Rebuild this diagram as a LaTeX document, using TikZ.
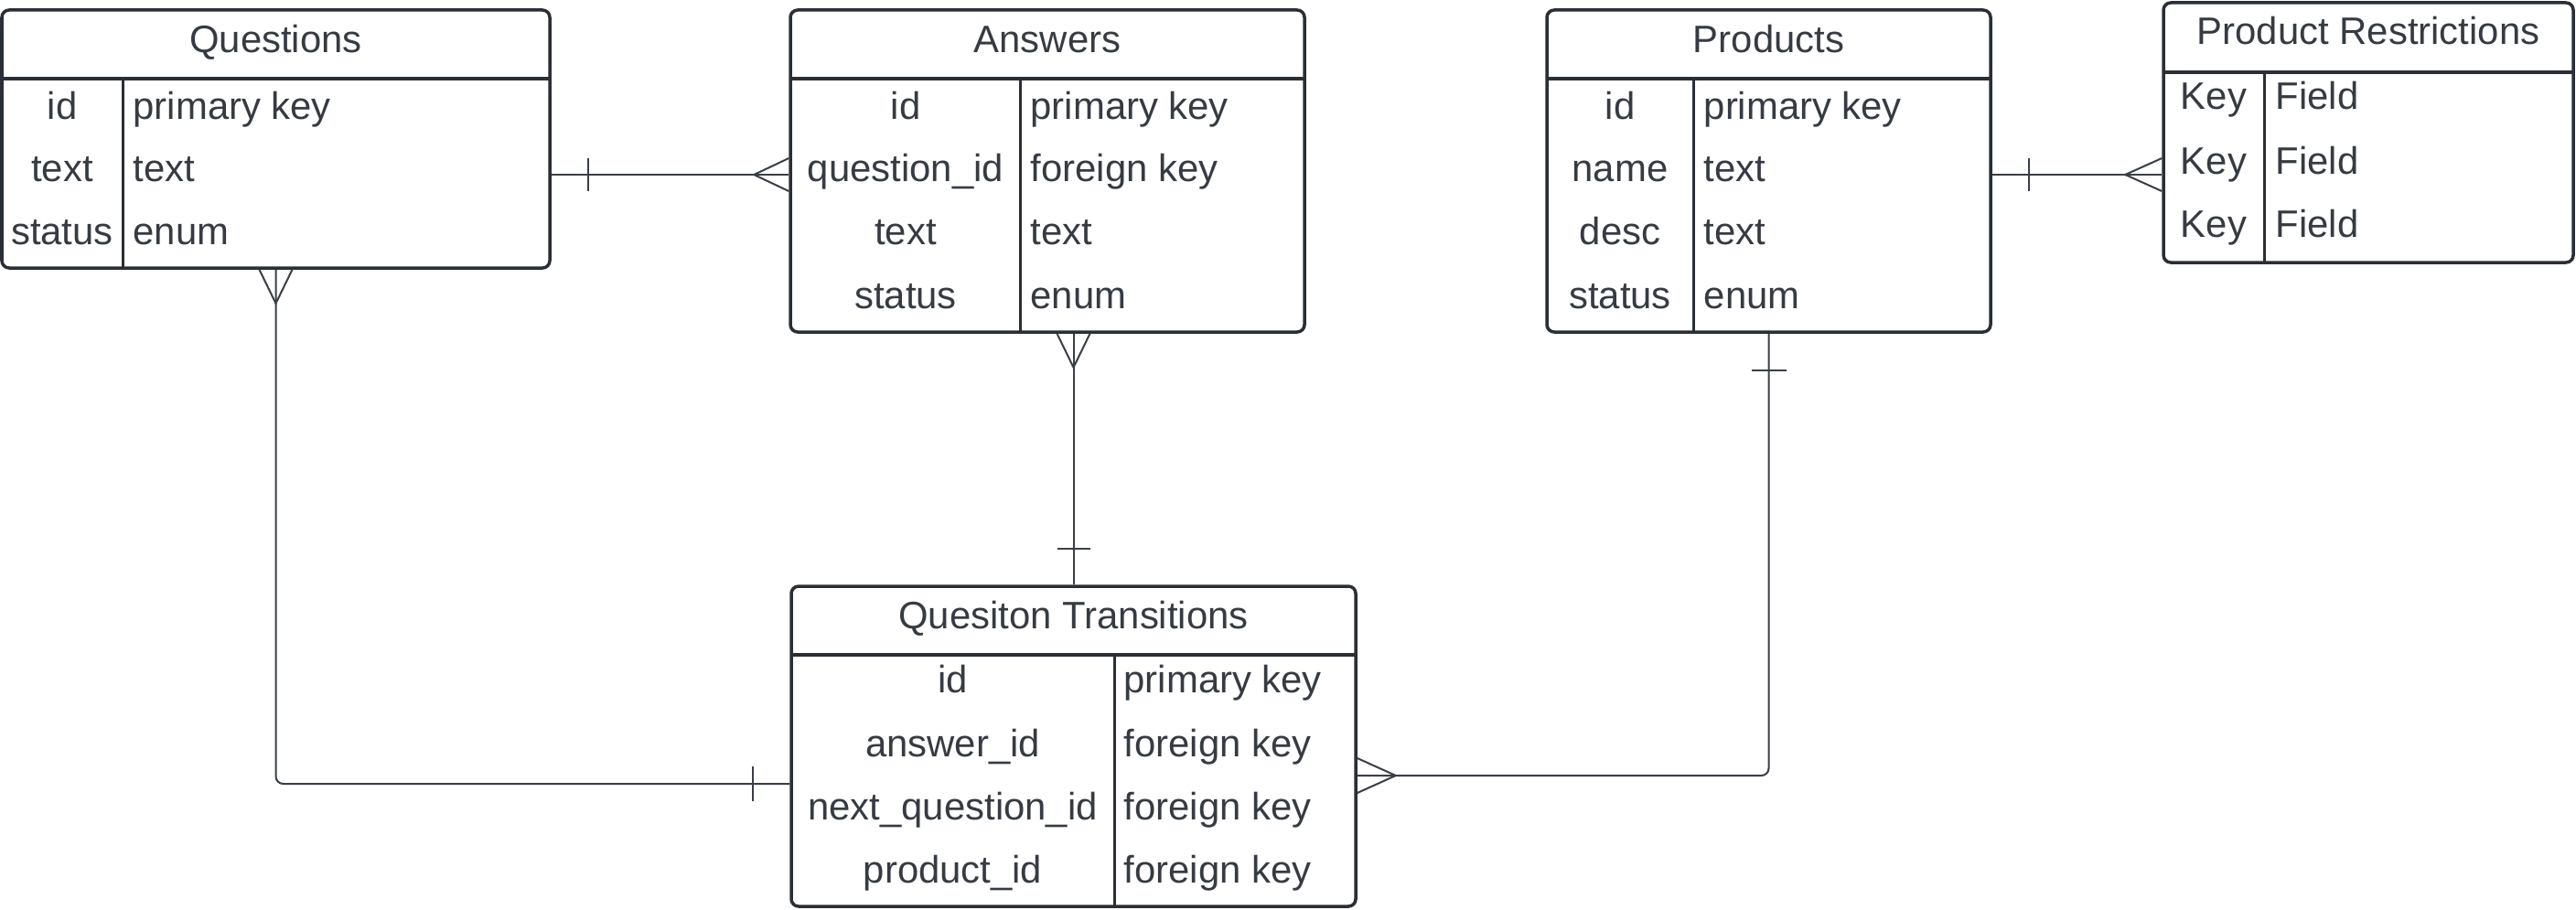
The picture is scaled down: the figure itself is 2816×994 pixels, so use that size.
\documentclass[tikz,border=0pt]{standalone}
\usepackage{fontspec}
\setmainfont{Liberation Sans}
\usetikzlibrary{fit,calc}
\definecolor{boxc}{HTML}{2A2E35}
\definecolor{txtc}{HTML}{363B43}
\definecolor{linec}{HTML}{3A3F47}
\begin{document}
\begin{tikzpicture}[x=0.01cm,y=-0.01cm,
  tbl/.style={draw=boxc, line width=0.035cm, rounded corners=0.08cm, inner sep=0pt},
  hsep/.style={draw=boxc, line width=0.04cm},
  csep/.style={draw=boxc, line width=0.03cm},
  txt/.style={text=txtc, inner sep=0pt, font=\fontsize{11.9}{14}\selectfont},
  hd/.style={txt, anchor=base},
  kc/.style={txt, anchor=base},
  vc/.style={txt, anchor=base west},
  conn/.style={draw=linec, line width=0.02cm}]
\useasboundingbox (0,0) rectangle (2816,994);
\fill[white] (0,0) rectangle (2816,994);

% ---------- Questions ----------
\node[tbl, fit={(2,11) (601,293)}] (Q) {};
\draw[hsep] (2,86) -- (601,86);
\draw[csep] (134,86) -- (134,293);
\node[hd] (Qh) at (301.5,58) {Questions};
\node[kc] (Qk1) at (68,130) {id};      \node[vc] (Qv1) at (145,130) {primary key};
\node[kc] (Qk2) at (68,199) {text};    \node[vc] (Qv2) at (145,199) {text};
\node[kc] (Qk3) at (68,268) {status};  \node[vc] (Qv3) at (145,268) {enum};

% ---------- Answers ----------
\node[tbl, fit={(864,11) (1426,363)}] (A) {};
\draw[hsep] (864,86) -- (1426,86);
\draw[csep] (1115,86) -- (1115,363);
\node[hd] (Ah) at (1145,58) {Answers};
\node[kc] (Ak1) at (990,130) {id};          \node[vc] (Av1) at (1126,130) {primary key};
\node[kc] (Ak2) at (990,199) {question\_id}; \node[vc] (Av2) at (1126,199) {foreign key};
\node[kc] (Ak3) at (990,268) {text};        \node[vc] (Av3) at (1126,268) {text};
\node[kc] (Ak4) at (990,337) {status};      \node[vc] (Av4) at (1126,337) {enum};

% ---------- Products ----------
\node[tbl, fit={(1691,11) (2176,363)}] (P) {};
\draw[hsep] (1691,86) -- (2176,86);
\draw[csep] (1851,86) -- (1851,363);
\node[hd] (Ph) at (1933.5,58) {Products};
\node[kc] (Pk1) at (1771,130) {id};     \node[vc] (Pv1) at (1862,130) {primary key};
\node[kc] (Pk2) at (1771,199) {name};   \node[vc] (Pv2) at (1862,199) {text};
\node[kc] (Pk3) at (1771,268) {desc};   \node[vc] (Pv3) at (1862,268) {text};
\node[kc] (Pk4) at (1771,337) {status}; \node[vc] (Pv4) at (1862,337) {enum};

% ---------- Product Restrictions ----------
\node[tbl, fit={(2365,3) (2813,287)}] (R) {};
\draw[hsep] (2365,79) -- (2813,79);
\draw[csep] (2475,79) -- (2475,287);
\node[hd] (Rh) at (2589,49) {Product Restrictions};
\node[kc] (Rk1) at (2420,120) {Key}; \node[vc] (Rv1) at (2487,120) {Field};
\node[kc] (Rk2) at (2420,190) {Key}; \node[vc] (Rv2) at (2487,190) {Field};
\node[kc] (Rk3) at (2420,259) {Key}; \node[vc] (Rv3) at (2487,259) {Field};

% ---------- Quesiton Transitions ----------
\node[tbl, fit={(865,641) (1482,991)}] (T) {};
\draw[hsep] (865,716) -- (1482,716);
\draw[csep] (1218,716) -- (1218,991);
\node[hd] (Th) at (1173.5,687) {Quesiton Transitions};
\node[kc] (Tk1) at (1041.5,757) {id};                 \node[vc] (Tv1) at (1228,757) {primary key};
\node[kc] (Tk2) at (1041.5,827) {answer\_id};         \node[vc] (Tv2) at (1228,827) {foreign key};
\node[kc] (Tk3) at (1041.5,896) {next\_question\_id}; \node[vc] (Tv3) at (1228,896) {foreign key};
\node[kc] (Tk4) at (1041.5,965) {product\_id};        \node[vc] (Tv4) at (1228,965) {foreign key};

% ---------- connectors ----------
% Questions -- Answers
\coordinate (yQA) at (0,191);
\coordinate (qa1) at (Q.east |- yQA);
\coordinate (qa2) at (A.west |- yQA);
\draw[conn] (qa1) -- (qa2);
\draw[conn] ($(qa1)+(40,-18)$) -- ($(qa1)+(40,18)$);
\draw[conn] ($(qa2)+(0,-18)$) -- ($(qa2)+(-38,0)$) -- ($(qa2)+(0,18)$);

% Questions -- Transitions
\coordinate (yQT) at (0,857);
\coordinate (qt2) at (T.west |- yQT);
\draw[conn, rounded corners=0.08cm] (Q.south) -- (Q.south |- yQT) -- (qt2);
\draw[conn] ($(Q.south)+(-18,0)$) -- ($(Q.south)+(0,37)$) -- ($(Q.south)+(18,0)$);
\draw[conn] ($(qt2)+(-40,-19)$) -- ($(qt2)+(-40,19)$);

% Answers -- Transitions
\coordinate (at1) at (A.south -| T.north);
\draw[conn] (at1) -- (T.north);
\draw[conn] ($(at1)+(-18,0)$) -- ($(at1)+(0,37)$) -- ($(at1)+(18,0)$);
\draw[conn] ($(T.north)+(-18,-39)$) -- ($(T.north)+(18,-39)$);

% Products -- Transitions
\coordinate (yPT) at (0,848);
\coordinate (pt2) at (T.east |- yPT);
\draw[conn, rounded corners=0.08cm] (P.south) -- (P.south |- yPT) -- (pt2);
\draw[conn] ($(P.south)+(-19,40)$) -- ($(P.south)+(19,40)$);
\draw[conn] ($(pt2)+(0,-19)$) -- ($(pt2)+(42,0)$) -- ($(pt2)+(0,19)$);

% Products -- Product Restrictions
\coordinate (yPR) at (0,191);
\coordinate (pr1) at (P.east |- yPR);
\coordinate (pr2) at (R.west |- yPR);
\draw[conn] (pr1) -- (pr2);
\draw[conn] ($(pr1)+(40,-18)$) -- ($(pr1)+(40,18)$);
\draw[conn] ($(pr2)+(0,-18)$) -- ($(pr2)+(-40,0)$) -- ($(pr2)+(0,18)$);
\end{tikzpicture}
\end{document}
